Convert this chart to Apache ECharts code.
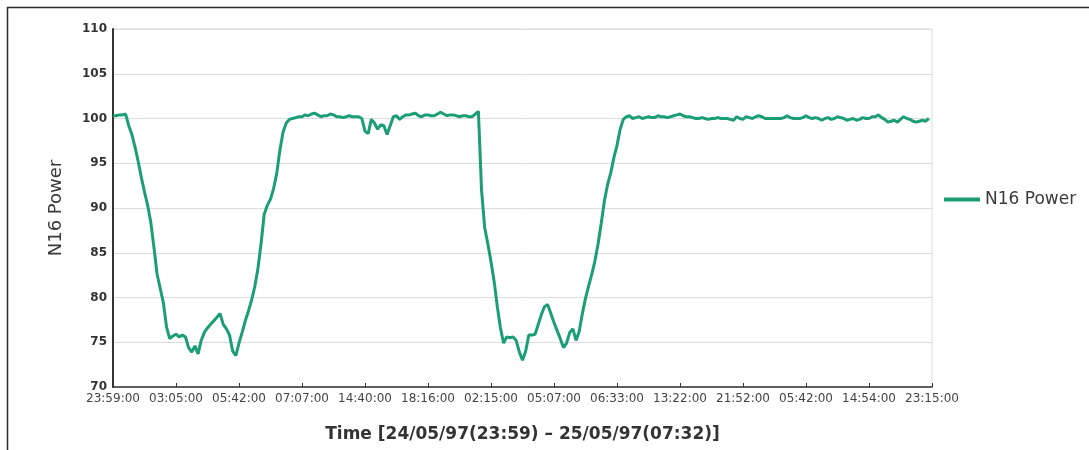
<!DOCTYPE html>
<html>
<head>
<meta charset="utf-8">
<script src="https://cdn.jsdelivr.net/npm/echarts@6/dist/echarts.min.js"></script>
<style>
  html, body { margin: 0; padding: 0; background: #ffffff; overflow: hidden; }
  #chart { width: 1089px; height: 450px; }
</style>
</head>
<body>
<div id="chart"></div>
<script>
// Time labels shown under the x axis, one per major tick
const timeLabels = ['23:59:00', '03:05:00', '05:42:00', '07:07:00', '14:40:00', '18:16:00',
  '02:15:00', '05:07:00', '06:33:00', '13:22:00', '21:52:00', '05:42:00', '14:54:00', '23:15:00'];

// Readings recorded between two labelled ticks
const samplesPerLabel = 20;

const seriesName = 'N16 Power';
const yAxisName = 'N16 Power';
const xAxisName = 'Time [24/05/97(23:59) \u2013 25/05/97(07:32)]';

// N16 power readings, evenly spaced along the time axis
const n16Power = [
  100.3, 100.3, 100.4, 100.4, 100.5, 99.2, 98.2, 96.8, 95.2, 93.4,
  91.8, 90.3, 88.4, 85.6, 82.6, 81.0, 79.4, 76.7, 75.4, 75.7,
  75.9, 75.6, 75.8, 75.6, 74.4, 73.9, 74.6, 73.7, 75.2, 76.1,
  76.6, 77.0, 77.4, 77.8, 78.2, 77.0, 76.5, 75.8, 74.0, 73.5,
  74.9, 76.1, 77.4, 78.5, 79.7, 81.2, 83.2, 86.0, 89.3, 90.3,
  91.0, 92.2, 93.9, 96.5, 98.5, 99.5, 99.9, 100.0, 100.1, 100.2,
  100.2, 100.4, 100.3, 100.5, 100.6, 100.4, 100.2, 100.3, 100.3, 100.5,
  100.4, 100.2, 100.2, 100.1, 100.2, 100.3, 100.2, 100.2, 100.2, 100.0,
  98.6, 98.3, 99.9, 99.5, 98.8, 99.3, 99.2, 98.2, 99.2, 100.2,
  100.3, 99.9, 100.2, 100.4, 100.4, 100.5, 100.6, 100.3, 100.2, 100.4,
  100.4, 100.3, 100.3, 100.5, 100.7, 100.5, 100.3, 100.4, 100.4, 100.3,
  100.2, 100.3, 100.3, 100.2, 100.2, 100.5, 100.8, 92.0, 87.8, 86.0,
  84.0, 81.8, 79.0, 76.6, 74.9, 75.6, 75.5, 75.6, 75.2, 73.9,
  73.0, 74.0, 75.8, 75.8, 75.9, 77.0, 78.1, 79.0, 79.2, 78.2,
  77.2, 76.3, 75.4, 74.4, 74.9, 76.1, 76.5, 75.2, 76.2, 78.2,
  79.9, 81.3, 82.6, 84.1, 86.0, 88.3, 90.8, 92.6, 93.9, 95.6,
  97.0, 98.8, 99.9, 100.2, 100.3, 100.0, 100.1, 100.2, 100.0, 100.1,
  100.2, 100.1, 100.1, 100.3, 100.2, 100.2, 100.1, 100.2, 100.3, 100.4,
  100.5, 100.3, 100.2, 100.2, 100.1, 100.0, 100.0, 100.1, 100.0, 99.9,
  100.0, 100.0, 100.1, 100.0, 100.0, 100.0, 99.9, 99.8, 100.2, 100.0,
  99.9, 100.2, 100.1, 100.0, 100.2, 100.3, 100.2, 100.0, 100.0, 100.0,
  100.0, 100.0, 100.0, 100.1, 100.3, 100.1, 100.0, 100.0, 100.0, 100.1,
  100.3, 100.1, 100.0, 100.1, 100.0, 99.8, 100.0, 100.1, 99.9, 100.0,
  100.2, 100.1, 100.0, 99.8, 99.9, 100.0, 99.8, 99.9, 100.1, 100.0,
  100.0, 100.2, 100.2, 100.4, 100.1, 99.9, 99.6, 99.7, 99.8, 99.6,
  99.9, 100.2, 100.0, 99.9, 99.7, 99.6, 99.7, 99.8, 99.7, 100.0
];

const lineColor = '#1b9e75';
const seriesData = n16Power.map((v, i) => [i / samplesPerLabel, v]);

const chart = echarts.init(document.getElementById('chart'), null, { renderer: 'canvas' });

chart.setOption({
  animation: false,
  backgroundColor: '#ffffff',
  grid: {
    left: 113, right: 157, top: 29, bottom: 63,
    show: true, borderColor: '#dcdcdc', borderWidth: 1
  },
  legend: {
    data: [seriesName],
    orient: 'vertical',
    left: 944,
    top: 191,
    padding: 0,
    icon: 'rect',
    itemWidth: 36,
    itemHeight: 4,
    itemGap: 10,
    textStyle: { fontFamily: 'DejaVu Sans', fontSize: 17, color: '#3a3a3a' }
  },
  xAxis: {
    type: 'value',
    min: 0,
    max: timeLabels.length - 1,
    interval: 1,
    name: xAxisName,
    nameLocation: 'middle',
    nameGap: 39,
    nameTextStyle: { fontFamily: 'DejaVu Sans', fontWeight: 'bold', fontSize: 17, color: '#333333' },
    axisLine: { show: true, lineStyle: { color: '#333333', width: 1.5 } },
    axisTick: { show: true, inside: true, length: 4, lineStyle: { color: '#333333' } },
    axisLabel: {
      margin: 6,
      fontFamily: 'DejaVu Sans',
      fontSize: 12,
      color: '#444444',
      showMinLabel: true,
      showMaxLabel: true,
      formatter: v => timeLabels[Math.round(v)]
    },
    splitLine: { show: false }
  },
  yAxis: {
    type: 'value',
    min: 70,
    max: 110,
    interval: 5,
    name: yAxisName,
    nameLocation: 'middle',
    nameGap: 48,
    nameTextStyle: { fontFamily: 'DejaVu Sans', fontSize: 18, color: '#3a3a3a' },
    axisLine: { show: true, lineStyle: { color: '#333333', width: 2 } },
    axisTick: { show: false },
    axisLabel: {
      margin: 6,
      fontFamily: 'DejaVu Sans',
      fontWeight: 'bold',
      fontSize: 12,
      color: '#333333'
    },
    splitLine: { show: true, lineStyle: { color: '#dcdcdc', width: 1 } }
  },
  series: [{
    name: seriesName,
    type: 'line',
    data: seriesData,
    showSymbol: false,
    symbol: 'none',
    smooth: false,
    color: lineColor,
    lineStyle: { color: lineColor, width: 3 }
  }],
  // Frame around the figure: top and left edges
  graphic: [
    {
      type: 'line',
      silent: true,
      shape: { x1: 7, y1: 7.5, x2: 1089, y2: 7.5 },
      style: { stroke: '#2a2a2a', lineWidth: 1.5 }
    },
    {
      type: 'line',
      silent: true,
      shape: { x1: 7.5, y1: 7, x2: 7.5, y2: 450 },
      style: { stroke: '#2a2a2a', lineWidth: 1.5 }
    }
  ]
});
</script>
</body>
</html>
